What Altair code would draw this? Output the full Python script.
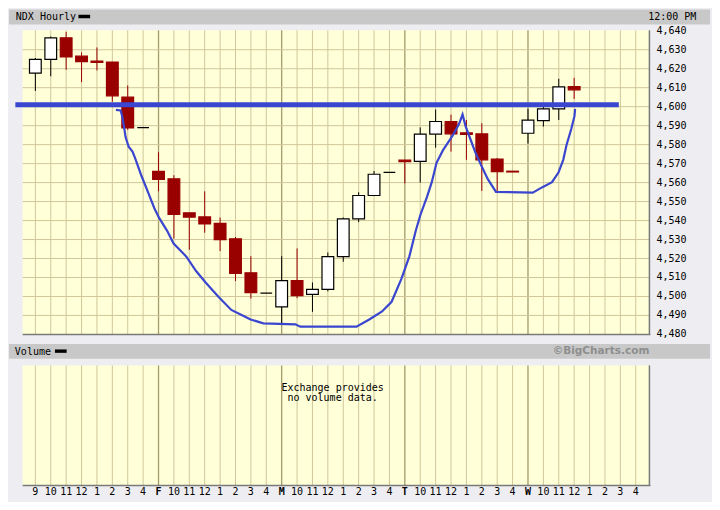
import altair as alt
import pandas as pd

# ---------------- data ----------------
slots = list(range(36))
opens = [4617.7, 4624.9, 4636.3, 4626.6, 4624.0, 4623.5, 4605.0, 4589.0,
         4565.9, 4562.0, 4544.1, 4541.9, 4538.5, 4530.4, 4512.5, 4501.8,
         4494.5, 4508.4, 4501.1, 4503.7, 4521.0, 4540.9, 4553.2, 4565.4,
         4571.8, 4571.2, 4585.5, 4592.2, 4586.2, 4585.7, 4572.4, 4566.0,
         4586.0, 4592.7, 4598.8, 4610.6]
highs = [4625.6, 4637.0, 4639.4, 4628.6, 4631.2, 4623.5, 4611.2, 4589.0,
         4576.0, 4563.9, 4544.1, 4555.4, 4541.6, 4531.4, 4521.2, 4501.8,
         4521.2, 4525.3, 4507.4, 4523.2, 4541.6, 4554.9, 4566.1, 4565.4,
         4571.8, 4589.1, 4598.5, 4595.8, 4593.0, 4591.3, 4573.0, 4566.0,
         4598.9, 4599.8, 4614.7, 4615.2]
lows = [4608.3, 4616.0, 4619.4, 4612.9, 4619.1, 4602.6, 4587.8, 4589.0,
        4555.4, 4530.5, 4524.6, 4533.6, 4523.9, 4508.1, 4498.9, 4501.8,
        4485.6, 4499.1, 4491.9, 4502.7, 4518.3, 4539.2, 4553.2, 4565.4,
        4559.6, 4560.0, 4578.4, 4576.3, 4572.0, 4555.6, 4555.0, 4565.6,
        4580.6, 4589.5, 4593.0, 4604.1]
closes = [4624.9, 4636.3, 4626.2, 4623.7, 4623.3, 4605.7, 4588.8, 4589.0,
          4561.7, 4543.3, 4541.8, 4538.2, 4530.0, 4512.2, 4502.0, 4501.8,
          4508.3, 4500.4, 4503.7, 4521.0, 4540.9, 4553.2, 4564.4, 4565.4,
          4571.0, 4585.5, 4592.2, 4585.7, 4585.4, 4572.0, 4565.8, 4565.6,
          4592.9, 4598.8, 4610.4, 4608.9]

# hand-drawn cup line (slot, price)
curve_slot = [5.23, 5.54, 5.64, 5.75, 5.86, 6.06, 6.31, 6.48, 6.89, 7.31,
              7.73, 8.04, 8.56, 8.98, 9.81, 10.44, 11.06, 11.89, 12.73, 13.56,
              13.98, 14.81, 16.89, 17.21, 20.86, 21.69, 22.52, 23.14, 23.77, 24.29,
              24.71, 25.02, 25.44, 25.75, 26.06, 26.48, 27.11, 27.52, 27.75, 27.94,
              28.25, 28.56, 28.98, 29.39, 29.92, 32.31, 32.94, 33.56, 33.98, 34.29,
              34.50, 34.81, 35.02, 35.06]
curve_price = [4598.3, 4598.0, 4595.0, 4589.9, 4584.0, 4578.9, 4576.3, 4572.9, 4563.6, 4555.1,
               4546.5, 4541.4, 4534.6, 4527.9, 4521.0, 4513.4, 4507.4, 4499.8, 4492.9, 4489.6,
               4487.9, 4485.8, 4485.3, 4484.1, 4484.1, 4487.9, 4492.1, 4497.2, 4509.1, 4521.0,
               4534.6, 4543.2, 4552.5, 4560.2, 4570.4, 4577.1, 4584.8, 4590.8, 4595.9, 4589.9,
               4583.1, 4576.3, 4568.7, 4561.8, 4555.1, 4554.7, 4557.6, 4560.2, 4565.3, 4572.0,
               4579.7, 4588.2, 4595.0, 4598.8]

resistance_level = 4601.0
resistance_from = -1.3
resistance_to = 37.9

grid_prices = [4490, 4500, 4510, 4520, 4530, 4540, 4550, 4560, 4570, 4580, 4590, 4600, 4610, 4620, 4630]
y_ticks = [4480, 4490, 4500, 4510, 4520, 4530, 4540, 4550, 4560, 4570, 4580, 4590, 4600, 4610, 4620, 4630, 4640]
y_labels = ["4,480", "4,490", "4,500", "4,510", "4,520", "4,530", "4,540", "4,550", "4,560",
            "4,570", "4,580", "4,590", "4,600", "4,610", "4,620", "4,630", "4,640"]
x_labels = ["9", "10", "11", "12", "1", "2", "3", "4",
            "F", "10", "11", "12", "1", "2", "3", "4",
            "M", "10", "11", "12", "1", "2", "3", "4",
            "T", "10", "11", "12", "1", "2", "3", "4",
            "W", "10", "11", "12", "1", "2", "3", "4"]
day_letters = ["F", "M", "T", "W"]

# ---------------- layout ----------------
W, H = 704, 494
SX, SY = W / 720, H / 510


def X(v):
    return v * SX


def Y(v):
    return v * SY


xs = alt.Scale(domain=[-0.5, 39.5], range=[X(15), X(655)], nice=False, zero=False)
ys = alt.Scale(domain=[4480, 4640], range=[Y(337), Y(23.5)], nice=False, zero=False)

RED = "#990000"
BLUE = "#3A46CF"
GRID = "#CFC79A"
DAYGRID = "#A39C6C"
PANEL = "#FFFFD8"
BAR = "#C8C8C8"

one = pd.DataFrame({"a": [1]})


def box(x1, x2, y1, y2, color):
    return alt.Chart(one).mark_rect(color=color).encode(
        x=alt.value(X(x1)), x2=alt.value(X(x2)), y=alt.value(Y(y1)), y2=alt.value(Y(y2)))


def hline(x1, x2, y, color, w):
    return alt.Chart(one).mark_rule(color=color, strokeWidth=w).encode(
        x=alt.value(X(x1)), x2=alt.value(X(x2)), y=alt.value(Y(y)))


def vline(x, y1, y2, color, w):
    return alt.Chart(one).mark_rule(color=color, strokeWidth=w).encode(
        x=alt.value(X(x)), y=alt.value(Y(y1)), y2=alt.value(Y(y2)))


candles = pd.DataFrame({"slot": slots, "open": opens, "high": highs, "low": lows, "close": closes})
candles["kind"] = ["up" if c > o else ("down" if c < o else "flat") for o, c in zip(opens, closes)]

kinds = alt.Scale(domain=["up", "down", "flat"], range=["#FFFFFF", RED, "#000000"])
kinds_stroke = alt.Scale(domain=["up", "down", "flat"], range=["#000000", RED, "#000000"])

vgrid = pd.DataFrame({"slot": list(range(40))})
vgrid["day"] = [s % 8 == 0 and s > 0 for s in vgrid["slot"]]
hgrid = pd.DataFrame({"price": grid_prices})
ylab = pd.DataFrame({"price": y_ticks, "label": y_labels})
xlab = pd.DataFrame({"slot": list(range(40)), "label": x_labels})
xlab["bold"] = xlab["label"].isin(day_letters)
curve = pd.DataFrame({"slot": curve_slot, "price": curve_price, "i": range(len(curve_slot))})
res = pd.DataFrame({"s0": [resistance_from], "s1": [resistance_to], "price": [resistance_level]})

layers = []
# header bars and panels
layers.append(box(1, 718, 1.5, 17, BAR))
layers.append(box(1, 718, 347, 362, BAR))
layers.append(box(15, 656, 23, 337, PANEL))
layers.append(box(15, 656, 369, 493, PANEL))

# grids
for df, col, w in [(vgrid[~vgrid["day"]], GRID, 1), (vgrid[vgrid["day"]], DAYGRID, 1.3)]:
    layers.append(alt.Chart(df).mark_rule(color=col, strokeWidth=w).encode(
        x=alt.X("slot:Q", scale=xs, axis=None), y=alt.value(Y(23)), y2=alt.value(Y(337))))
    layers.append(alt.Chart(df).mark_rule(color=col, strokeWidth=w).encode(
        x=alt.X("slot:Q", scale=xs, axis=None), y=alt.value(Y(369)), y2=alt.value(Y(493))))
layers.append(alt.Chart(hgrid).mark_rule(color=GRID, strokeWidth=1).encode(
    y=alt.Y("price:Q", scale=ys, axis=None), x=alt.value(X(15)), x2=alt.value(X(656))))

# panel shadows
layers.append(hline(15, 657, 337, "#7A7A7A", 1.5))
layers.append(vline(656, 23, 337.5, "#7A7A7A", 1.5))
layers.append(hline(15, 657, 493, "#7A7A7A", 1.5))
layers.append(vline(656, 369, 493.5, "#7A7A7A", 1.5))

# candles
layers.append(alt.Chart(candles[candles["kind"] != "flat"]).mark_rule(strokeWidth=1).encode(
    x=alt.X("slot:Q", scale=xs, axis=None),
    y=alt.Y("low:Q", scale=ys, axis=None), y2="high:Q",
    color=alt.Color("kind:N", scale=kinds_stroke, legend=None)))
layers.append(alt.Chart(candles).mark_bar(size=12 * SX, strokeWidth=1.2).encode(
    x=alt.X("slot:Q", scale=xs, axis=None),
    y=alt.Y("open:Q", scale=ys, axis=None), y2="close:Q",
    fill=alt.Fill("kind:N", scale=kinds, legend=None),
    stroke=alt.Stroke("kind:N", scale=kinds_stroke, legend=None)))

# resistance line and cup drawing
layers.append(alt.Chart(res).mark_rule(color=BLUE, strokeWidth=5).encode(
    x=alt.X("s0:Q", scale=xs, axis=None), x2="s1:Q",
    y=alt.Y("price:Q", scale=ys, axis=None)))
layers.append(alt.Chart(curve).mark_line(color=BLUE, strokeWidth=2.2).encode(
    x=alt.X("slot:Q", scale=xs, axis=None),
    y=alt.Y("price:Q", scale=ys, axis=None),
    order="i:Q"))

# axis labels
MONO = "DejaVu Sans Mono"
layers.append(alt.Chart(ylab).mark_text(align="right", baseline="middle", font=MONO, fontSize=10, color="black").encode(
    x=alt.value(X(694)), y=alt.Y("price:Q", scale=ys, axis=None), text="label:N"))
layers.append(alt.Chart(xlab[~xlab["bold"]]).mark_text(align="center", baseline="middle", font=MONO, fontSize=10, color="black").encode(
    x=alt.X("slot:Q", scale=xs, axis=None), y=alt.value(Y(500)), text="label:N"))
layers.append(alt.Chart(xlab[xlab["bold"]]).mark_text(align="center", baseline="middle", font=MONO, fontSize=10, fontWeight="bold", color="black").encode(
    x=alt.X("slot:Q", scale=xs, axis=None), y=alt.value(Y(500)), text="label:N"))

# header texts
def label(txt, x, y, align="left", **kw):
    return alt.Chart(one).mark_text(align=align, baseline="middle", **kw).encode(
        x=alt.value(X(x)), y=alt.value(Y(y)), text=alt.value(txt))


layers.append(label("NDX Hourly", 8, 9.5, font=MONO, fontSize=10, color="black"))
layers.append(box(72, 84, 7, 10.5, "black"))
layers.append(label("12:00 PM", 704, 9.5, align="right", font=MONO, fontSize=10, color="black"))
layers.append(label("Volume", 7, 355, font=MONO, fontSize=10, color="black"))
layers.append(box(48, 60, 352.5, 356, "black"))
layers.append(label("\u00a9BigCharts.com", 656, 354.5, align="right", font="DejaVu Sans", fontSize=10.5,
                    fontWeight="bold", color="#8E8E8E"))
layers.append(alt.Chart(one).mark_text(align="center", baseline="middle", font=MONO, fontSize=10,
                                       color="black", lineBreak="\n", lineHeight=10).encode(
    x=alt.value(X(332)), y=alt.value(Y(392)), text=alt.value("Exchange provides\nno volume data.")))

chart = alt.layer(*layers).properties(
    width=W, height=H, padding=0,
    autosize=alt.AutoSizeParams(type="none"),
    background="#EEEEF2",
).configure_view(strokeWidth=0)

chart.save("out.html", embed_options={"renderer": "svg", "actions": False})
